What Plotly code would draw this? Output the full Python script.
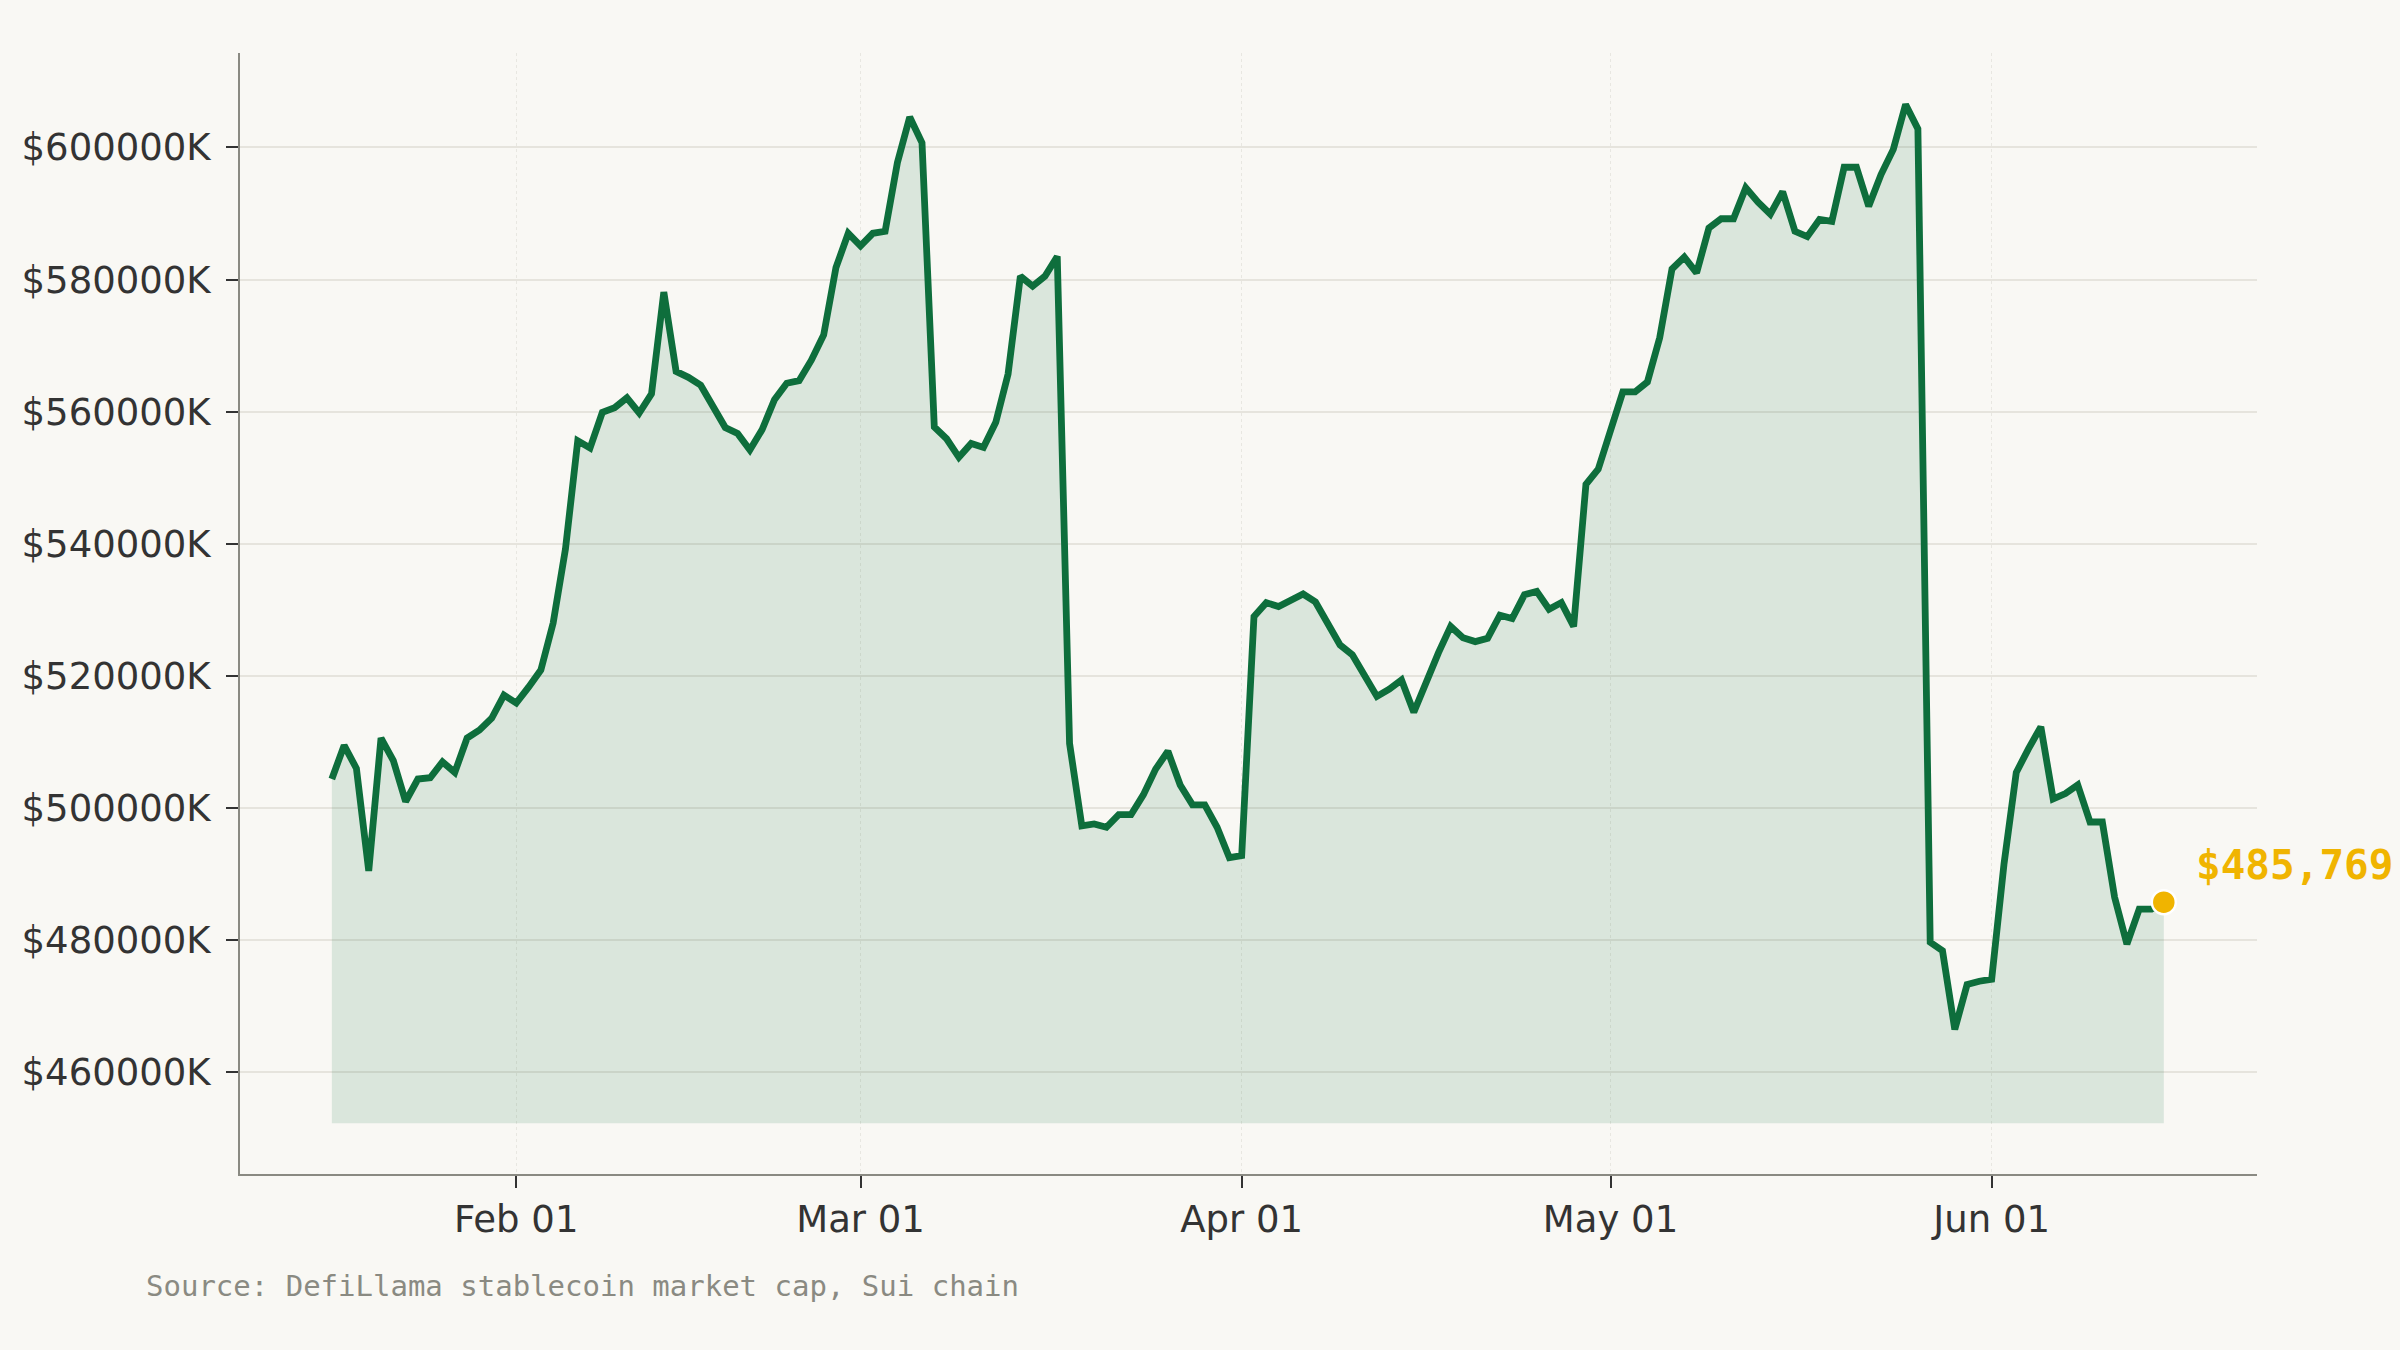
import datetime as dt
import plotly.graph_objects as go

START_DATE = "2025-01-17"
# Sui chain stablecoin market cap, in thousands of USD (daily)
market_cap_k = [
    504400, 509500, 506000, 490500, 510600, 507200, 501000, 504400, 504600, 507000,
    505400, 510600, 511800, 513600, 517100, 515900, 518300, 520900, 528000, 539200,
    555600, 554500, 559900, 560600, 562100, 559800, 562700, 578100, 566100, 565200,
    564000, 560800, 557600, 556700, 554200, 557300, 561800, 564300, 564700, 567800,
    571600, 581800, 587000, 585100, 587000, 587300, 597700, 604600, 600700, 557700,
    555900, 553100, 555200, 554600, 558400, 565700, 580500, 579000, 580500, 583500,
    509800, 497300, 497600, 497100, 499000, 499000, 502000, 505900, 508600, 503500,
    500500, 500500, 497100, 492500, 492800, 529000, 531100, 530500, 531500, 532400,
    531200, 527800, 524700, 523200, 519900, 516900, 518000, 519400, 514500, 519100,
    523500, 527500, 525800, 525200, 525700, 529200, 528700, 532300, 532800, 530100,
    531100, 527500, 549000, 551300, 557600, 563000, 563000, 564500, 571200, 581600,
    583400, 581000, 587800, 589200, 589200, 593900, 591700, 589900, 593300, 587300,
    586500, 589100, 588800, 597000, 597000, 591100, 595900, 599700, 606500, 602800,
    479700, 478400, 466500, 473300, 473800, 474100, 491500, 505400, 509000, 512300,
    501400, 502200, 503500, 497900, 497900, 486500, 479400, 484700, 484700, 485769,
]
FILL_FLOOR_K = 452300
SOURCE_TEXT = "Source: DefiLlama stablecoin market cap, Sui chain"

start = dt.datetime.fromisoformat(START_DATE)
dates = [start + dt.timedelta(days=i) for i in range(len(market_cap_k))]
floor = [FILL_FLOOR_K] * len(dates)

LINE = "#0e6e3c"
GOLD = "#f0b400"
BG = "#f9f8f4"

fig = go.Figure()
fig.add_trace(go.Scatter(x=dates, y=floor, mode="lines", line=dict(width=0),
                         hoverinfo="skip", showlegend=False))
fig.add_trace(go.Scatter(x=dates, y=market_cap_k, mode="lines", fill="tonexty",
                         fillcolor="rgba(14,110,60,0.13)",
                         line=dict(color=LINE, width=6.8, shape="linear"),
                         showlegend=False))
fig.add_trace(go.Scatter(x=[dates[-1]], y=[market_cap_k[-1]], mode="markers",
                         marker=dict(size=24, color=GOLD, line=dict(color="white", width=2.5)),
                         showlegend=False))

fig.add_annotation(x=dates[-1], y=market_cap_k[-1], text=f"${market_cap_k[-1]:,}",
                   showarrow=False, xanchor="left", yanchor="middle", xshift=30, yshift=37,
                   font=dict(family="DejaVu Sans Mono", size=41, color=GOLD, weight="bold"))
fig.add_annotation(xref="paper", yref="paper", x=-0.0476, y=-0.0996, text=SOURCE_TEXT,
                   showarrow=False, xanchor="left", yanchor="middle",
                   font=dict(family="DejaVu Sans Mono", size=29, color="#8a8a82"))

x0 = start - dt.timedelta(days=7.47)
x1 = dates[-1] + dt.timedelta(days=7.58)

fig.update_layout(
    width=2400, height=1350,
    paper_bgcolor=BG, plot_bgcolor=BG,
    margin=dict(l=240, r=143, t=53, b=176),
    font=dict(family="DejaVu Sans", size=37, color="#333333"),
    showlegend=False,
)
fig.update_xaxes(
    range=[x0, x1], type="date",
    tickvals=["2025-02-01", "2025-03-01", "2025-04-01", "2025-05-01", "2025-06-01"],
    tickformat="%b %d",
    showgrid=True, gridcolor="rgba(200,200,190,0.35)", griddash="dot", gridwidth=1,
    showline=True, linecolor="#8a8a82", linewidth=2,
    ticks="outside", ticklen=12, tickwidth=2, tickcolor="#333333",
    tickfont=dict(size=37, color="#333333"), zeroline=False,
)
fig.update_yaxes(
    range=[444620, 614290],
    tick0=0, dtick=20000, tickformat="d", tickprefix="$", ticksuffix="K",
    showgrid=True, gridcolor="#e6e4dd", gridwidth=2,
    showline=True, linecolor="#8a8a82", linewidth=2,
    ticks="outside", ticklen=12, tickwidth=2, tickcolor="#333333",
    tickfont=dict(size=37, color="#333333"), zeroline=False,
    ticklabelstandoff=8,
)

fig.write_html("out.html")
